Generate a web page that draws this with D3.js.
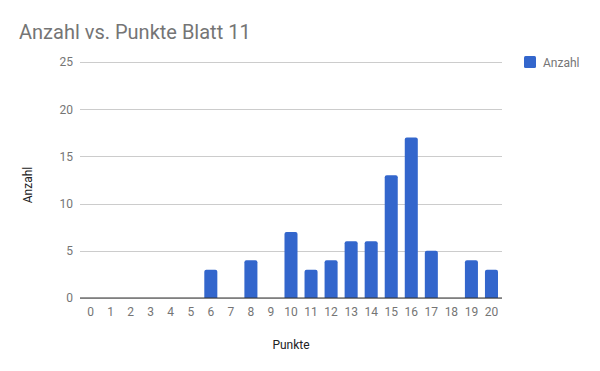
<!DOCTYPE html>
<html>
<head>
<meta charset="utf-8">
<script src="https://cdn.jsdelivr.net/npm/d3@7"></script>
<style>
  body { margin: 0; background: #fff; }
  text { font-family: Roboto, "Noto Sans", sans-serif; }
</style>
</head>
<body>
<div id="chart"></div>
<script>
// data
const punkte = ["0","1","2","3","4","5","6","7","8","9","10","11","12","13","14","15","16","17","18","19","20"];
const anzahl = [0,0,0,0,0,0,3,0,4,0,7,3,4,6,6,13,17,5,0,4,3];
const yTicks = [0,5,10,15,20,25];
const seriesName = "Anzahl";

const W = 600, H = 371;
const plot = {left: 80, right: 502, top: 62, bottom: 298};

let svg = d3.select("#chart").append("svg")
  .attr("width", W).attr("height", H);

let xScale = d3.scaleBand()
  .domain(punkte)
  .range([plot.left, plot.right])
  .paddingInner(0.35)
  .paddingOuter(0.2);

let yScale = d3.scaleLinear()
  .domain([0, 25])
  .range([plot.bottom, plot.top]);

// gridlines
svg.append("g")
  .selectAll("line")
  .data(yTicks)
  .join("line")
    .attr("x1", plot.left)
    .attr("x2", plot.right)
    .attr("y1", d => Math.round(yScale(d)) + 0.5)
    .attr("y2", d => Math.round(yScale(d)) + 0.5)
    .attr("stroke", "#cccccc")
    .attr("stroke-width", 1);

// y axis labels
let yAxis = d3.axisLeft(yScale).tickValues(yTicks).tickSize(0).tickPadding(7);
let gy = svg.append("g")
  .attr("transform", `translate(${plot.left},0)`)
  .call(yAxis);
gy.select(".domain").remove();
gy.selectAll("text")
  .attr("fill", "#757575")
  .style("font-size", "12px");

// bars
svg.append("g")
  .selectAll("path")
  .data(punkte.map((p, i) => ({x1: p, y1: anzahl[i]})).filter(d => d.y1 > 0))
  .join("path")
    .attr("fill", "#3366cc")
    .attr("d", d => {
      let x = xScale(d.x1), w = xScale.bandwidth();
      let y = yScale(d.y1), b = yScale(0), r = 2;
      return `M${x},${b}V${y + r}Q${x},${y} ${x + r},${y}H${x + w - r}Q${x + w},${y} ${x + w},${y + r}V${b}Z`;
    });

// baseline
svg.append("line")
  .attr("x1", plot.left).attr("x2", plot.right)
  .attr("y1", yScale(0)).attr("y2", yScale(0))
  .attr("stroke", "#333333")
  .attr("stroke-width", 1.2);

// x axis labels
let xAxis = d3.axisBottom(xScale).tickSize(0).tickPadding(9);
let gx = svg.append("g")
  .attr("transform", `translate(0,${plot.bottom})`)
  .call(xAxis);
gx.select(".domain").remove();
gx.selectAll("text")
  .attr("fill", "#757575")
  .style("font-size", "12px");

// title
svg.append("text")
  .attr("x", 19).attr("y", 39)
  .attr("fill", "#757575")
  .style("font-size", "20px")
  .text("Anzahl vs. Punkte Blatt 11");

// axis titles
svg.append("text")
  .attr("x", 291).attr("y", 349)
  .attr("text-anchor", "middle")
  .attr("fill", "#222222")
  .style("font-size", "12px")
  .text("Punkte");

svg.append("text")
  .attr("transform", "translate(32,185) rotate(-90)")
  .attr("text-anchor", "middle")
  .attr("fill", "#222222")
  .style("font-size", "12px")
  .text("Anzahl");

// legend
let legend = svg.append("g").attr("transform", "translate(524,56)");
legend.append("rect")
  .attr("width", 12).attr("height", 12)
  .attr("rx", 1.5)
  .attr("fill", "#3366cc");
legend.append("text")
  .attr("x", 19).attr("y", 10.5)
  .attr("fill", "#757575")
  .style("font-size", "12px")
  .text(seriesName);
</script>
</body>
</html>
